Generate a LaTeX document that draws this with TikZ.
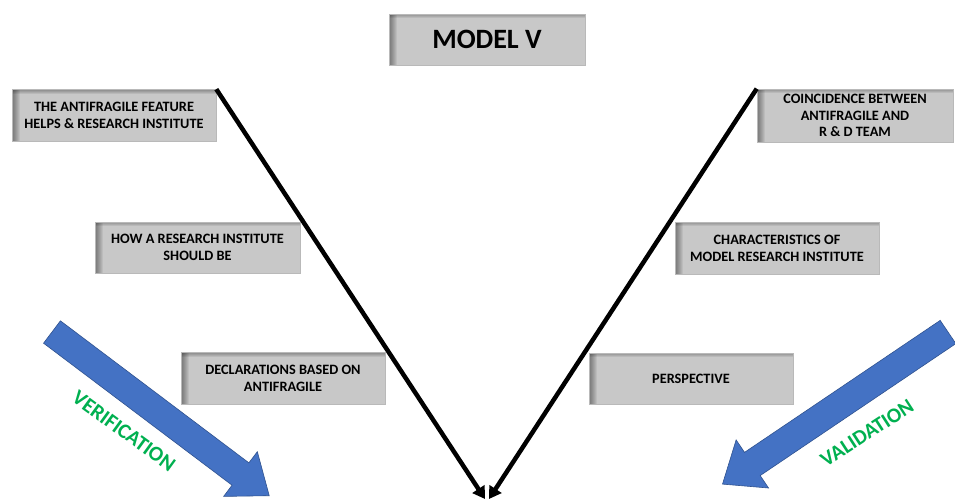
\documentclass[tikz,border=0pt]{standalone}
\usepackage{fontspec}
\setmainfont{Carlito}
\usetikzlibrary{arrows.meta}
\definecolor{boxgray}{RGB}{200,200,200}
\definecolor{arrowblue}{RGB}{68,114,196}
\definecolor{arrowedge}{RGB}{47,82,143}
\definecolor{labelgreen}{RGB}{0,176,80}
\tikzset{
  gbox/.style={fill=boxgray, draw=gray!55, line width=0.6pt, inner sep=0pt,
    minimum width=204pt, minimum height=52pt, align=center,
    font=\bfseries\fontsize{14.3}{16.8}\selectfont,
    path picture={
      \foreach \i in {1,...,8}{
        \fill[black, opacity=0.06]
          (path picture bounding box.south west) rectangle ([xshift=\i pt]path picture bounding box.north west);
      }
      \foreach \i in {1,...,4}{
        \fill[black, opacity=0.07]
          ([yshift=-\i pt]path picture bounding box.north west) rectangle (path picture bounding box.north east);
      }
    }},
  vline/.style={line width=4.5pt, -{Triangle[length=12pt,width=14pt]}},
  bigarrow/.style={fill=arrowblue, draw=arrowedge, line width=0.6pt},
  arrowlabel/.style={text=labelgreen, font=\bfseries\fontsize{21}{21}\selectfont}
}
\begin{document}
\begin{tikzpicture}[x=1pt,y=-1pt]
\useasboundingbox (0,0) rectangle (955,498);
\fill[white] (0,0) rectangle (955,498);

% title
\node[gbox, minimum width=196pt, minimum height=51pt,
  font=\bfseries\fontsize{28}{30}\selectfont] (title) at (487,39.5) {MODEL V};

% left boxes
\node[gbox] (b1) at (114,115.5) {THE ANTIFRAGILE FEATURE\\HELPS \& RESEARCH INSTITUTE};
\node[gbox, minimum width=205pt, minimum height=51pt] (b2) at (197.5,247.5) {HOW A RESEARCH INSTITUTE\\SHOULD BE};
\node[gbox] (b3) at (283,378.5) {DECLARATIONS BASED ON\\ANTIFRAGILE};

% right boxes
\node[gbox, minimum width=196pt, minimum height=53pt] (b4) at (855,115.5) {COINCIDENCE BETWEEN\\ANTIFRAGILE AND\\R \& D TEAM};
\node[gbox] (b5) at (777,248) {CHARACTERISTICS OF\\MODEL RESEARCH INSTITUTE};
\node[gbox, minimum height=51pt] (b6) at (691,378.5) {PERSPECTIVE};

% V lines
\coordinate (tipL) at (485,499);
\coordinate (tipR) at (489,499);
\draw[vline] (b1.north east) -- (tipL);
\draw[vline] (b4.north west) -- (tipR);

% blue arrows
\begin{scope}[shift={(52,332)}, rotate=-37]
  \draw[bigarrow] (0,-14) -- (236,-14) -- (236,-28) -- (272,0) -- (236,28) -- (236,14) -- (0,14) -- cycle;
\end{scope}
\begin{scope}[shift={(948,332)}, rotate=-146]
  \draw[bigarrow] (0,-14) -- (236,-14) -- (236,-29) -- (272,0) -- (236,29) -- (236,14) -- (0,14) -- cycle;
\end{scope}

\node[arrowlabel, rotate=-36] (verif) at (124,431) {VERIFICATION};
\node[arrowlabel, rotate=33] (valid) at (867,433) {VALIDATION};
\end{tikzpicture}
\end{document}
